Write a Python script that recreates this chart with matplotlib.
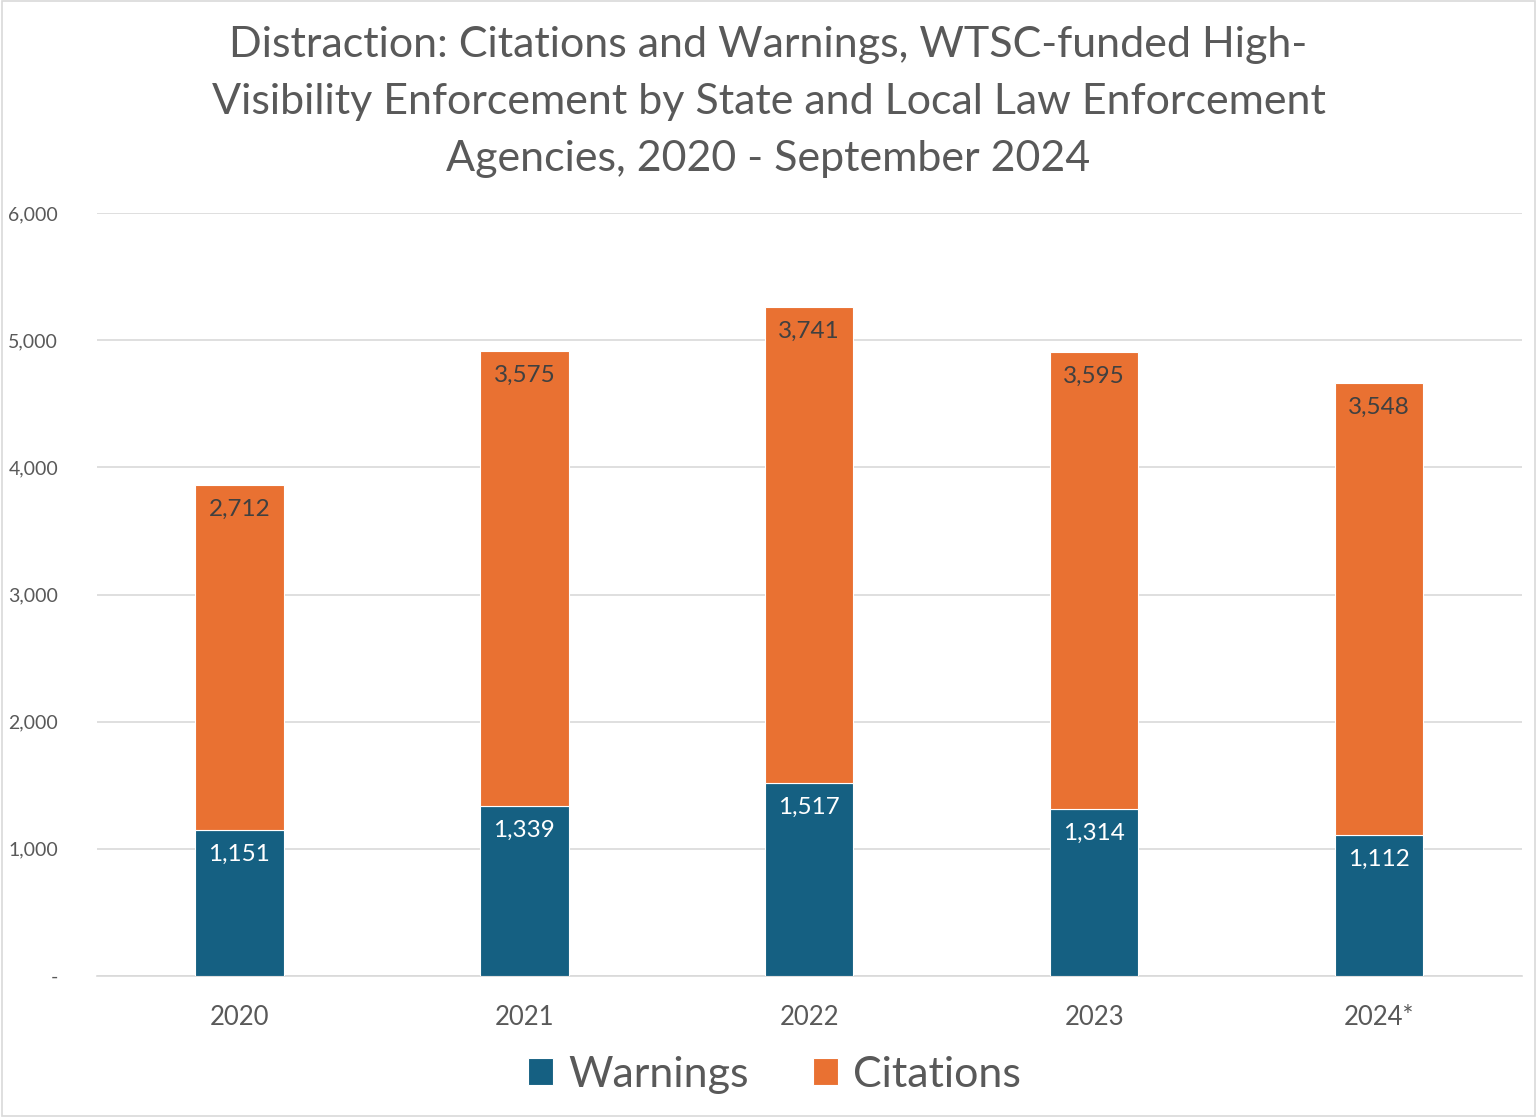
import matplotlib
matplotlib.use("Agg")
import matplotlib.pyplot as plt
from matplotlib.patches import Rectangle

years = ["2020", "2021", "2022", "2023", "2024*"]
warnings = [1151, 1339, 1517, 1314, 1112]
citations = [2712, 3575, 3741, 3595, 3548]
yticks = [0, 1000, 2000, 3000, 4000, 5000, 6000]
ytick_labels = ["-", "1,000", "2,000", "3,000", "4,000", "5,000", "6,000"]

BLUE = "#156082"
ORANGE = "#E97132"
GREY = "#595959"

plt.rcParams["font.family"] = ["Lato", "DejaVu Sans"]

fig = plt.figure(figsize=(15.37, 11.17), dpi=100)
ax = fig.add_axes([0.0631, 0.1262, 0.9269, 0.6831])

x = list(range(len(years)))
w = 0.31
b1 = ax.bar(x, warnings, width=w, color=BLUE, edgecolor="white", linewidth=0.8, label="Warnings", zorder=3)
b2 = ax.bar(x, citations, width=w, bottom=warnings, color=ORANGE, edgecolor="white", linewidth=0.8, label="Citations", zorder=3)

for i in x:
    ax.annotate(f"{warnings[i]:,}", (i, warnings[i]), xytext=(0, -10), textcoords="offset points",
                ha="center", va="top", color="white", fontsize=17.5)
    ax.annotate(f"{citations[i]:,}", (i, warnings[i] + citations[i]), xytext=(0, -10), textcoords="offset points",
                ha="center", va="top", color="#404040", fontsize=17.5)

ax.set_xlim(-0.5, 4.5)
ax.set_ylim(0, 6000)
ax.set_yticks(yticks)
ax.set_yticklabels(ytick_labels, fontsize=14, color=GREY)
ax.set_xticks(x)
ax.set_xticklabels(years, fontsize=18.5, color=GREY)
ax.tick_params(axis="both", length=0)
ax.tick_params(axis="y", pad=28)
ax.tick_params(axis="x", pad=21)
ax.grid(axis="y", color="#D9D9D9", linewidth=1.2, zorder=0)
for s in ["top", "right", "left"]:
    ax.spines[s].set_visible(False)
ax.spines["bottom"].set_color("#D9D9D9")
ax.spines["bottom"].set_linewidth(1.2)

fig.text(0.5, 0.9087, "Distraction: Citations and Warnings, WTSC-funded High-\nVisibility Enforcement by State and Local Law Enforcement\nAgencies, 2020 - September 2024",
         ha="center", va="center", fontsize=31, color=GREY, linespacing=1.6, multialignment="center")

fig.legend(handles=[b1, b2], loc="center", bbox_to_anchor=(0.504, 0.038), ncol=2, frameon=False,
           fontsize=31, labelcolor=GREY, handlelength=0.58, handleheight=0.58, handletextpad=0.35,
           columnspacing=1.5)

fig.patches.append(Rectangle((0.001, 0.001), 0.998, 0.998, transform=fig.transFigure,
                             fill=False, edgecolor="#D9D9D9", linewidth=1.2))

fig.savefig("out.png", dpi=100)
